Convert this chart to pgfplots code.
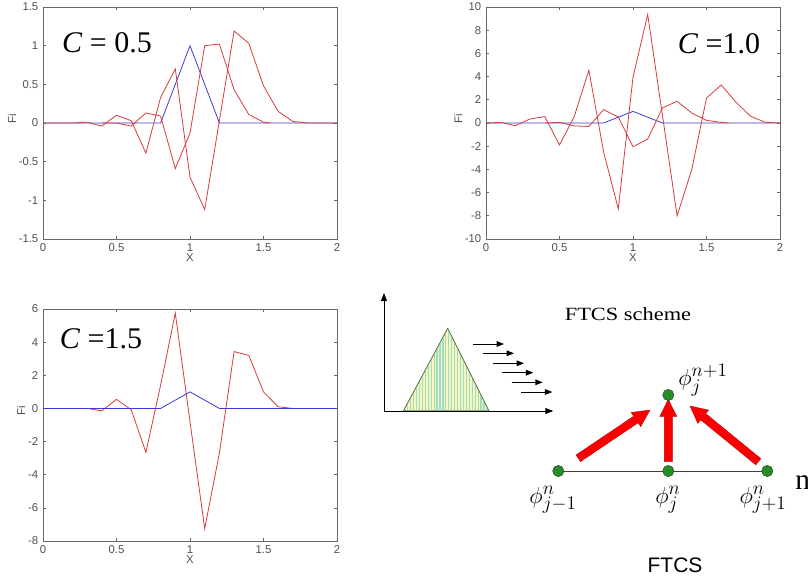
\documentclass[border=0pt]{standalone}
\usepackage{pgfplots}
\pgfplotsset{compat=1.18}
\usepackage{fontspec}
\setmainfont{Liberation Serif}
\newfontfamily\arial{Liberation Sans}
\usetikzlibrary{arrows.meta,patterns.meta}
\definecolor{mred}{RGB}{215,60,60}
\definecolor{mblue}{RGB}{60,60,205}
\definecolor{framegray}{RGB}{105,105,105}
\definecolor{labgray}{RGB}{80,80,80}
\definecolor{triyellow}{RGB}{245,245,190}
\definecolor{trigreen}{RGB}{160,220,195}
\definecolor{triedge}{RGB}{90,110,70}
\definecolor{dotgreen}{RGB}{40,140,40}
\definecolor{arrred}{RGB}{250,0,0}
\pgfplotsset{mat/.style={scale only axis, width=220.5pt, height=174pt,
  xmin=0, xmax=2, xtick={0,0.5,1,1.5,2}, xticklabels={0,0.5,1,1.5,2},
  tick align=inside, major tick length=2.25pt,
  axis line style={framegray, line width=0.5pt},
  tick style={framegray, line width=0.5pt},
  ticklabel style={font=\arial\fontsize{8.5}{10}\selectfont, text=labgray},
  label style={font=\arial\fontsize{8.5}{10}\selectfont, text=labgray},
  xlabel=X, ylabel=Fi,
  xlabel style={at={(axis description cs:0.5,0)}, anchor=north, yshift=-10.5pt, inner sep=0pt},
  clip=true}}
\begin{document}
\begin{tikzpicture}
\useasboundingbox (0pt,0pt) rectangle (606pt,436.5pt);
% ---------- C = 0.5 ----------
\begin{axis}[mat, at={(32.25pt,257.25pt)}, anchor=south west,
  ymin=-1.5, ymax=1.5, ytick={-1.5,-1,-0.5,0,0.5,1,1.5},
  yticklabels={-1.5,-1,-0.5,0,0.5,1,1.5},
  ylabel style={at={(axis description cs:-0.105,0.52)}, anchor=center, inner sep=0pt}]
\addplot[mblue, line width=0.6pt] coordinates {(0,0) (0.8,0) (0.9,0.5) (1.0,1) (1.1,0.5) (1.2,0) (2,0)};
\addplot[mred, line width=0.6pt] coordinates {(0.4,0) (0.5,0.0) (0.6,-0.04) (0.7,0.13) (0.8,0.09) (0.9,-0.59) (1.0,-0.13) (1.1,1.0) (1.2,1.02) (1.3,0.43) (1.4,0.11) (1.5,0.01) (1.55,0)};
\addplot[mred, line width=0.6pt] coordinates {(0,0) (0.2,0) (0.3,0.01) (0.4,-0.04) (0.5,0.1) (0.6,0.03) (0.7,-0.39) (0.8,0.33) (0.9,0.7) (1.0,-0.7) (1.1,-1.12) (1.2,0.03) (1.3,1.19) (1.4,1.03) (1.5,0.48) (1.6,0.15) (1.7,0.02) (1.8,0) (2,0)};
\end{axis}
% ---------- C = 1.0 ----------
\begin{axis}[mat, at={(364.5pt,257.25pt)}, anchor=south west,
  ymin=-10, ymax=10, ytick={-10,-8,...,10},
  yticklabels={-10,-8,-6,-4,-2,0,2,4,6,8,10},
  ylabel style={at={(axis description cs:-0.094,0.517)}, anchor=center, inner sep=0pt}]
\addplot[mblue, line width=0.6pt] coordinates {(0,0) (0.8,0) (0.9,0.5) (1.0,1) (1.1,0.5) (1.2,0) (2,0)};
\addplot[mred, line width=0.6pt] coordinates {(0.4,0) (0.5,0.05) (0.6,-0.25) (0.7,-0.3) (0.8,1.15) (0.9,0.52) (1.0,-2.05) (1.1,-1.38) (1.2,1.3) (1.3,1.87) (1.4,0.86) (1.5,0.23) (1.6,0.05) (1.65,0)};
\addplot[mred, line width=0.6pt] coordinates {(0,0) (0.1,0.05) (0.2,-0.23) (0.3,0.35) (0.4,0.55) (0.5,-1.9) (0.6,0.55) (0.7,4.55) (0.8,-2.5) (0.9,-7.4) (1.0,3.95) (1.1,9.35) (1.2,0.7) (1.3,-8.0) (1.4,-4.0) (1.5,2.15) (1.6,3.28) (1.7,1.8) (1.8,0.58) (1.9,0.06) (2.0,0)};
\end{axis}
% ---------- C = 1.5 ----------
\begin{axis}[mat, at={(32.25pt,30.75pt)}, anchor=south west,
  ymin=-8, ymax=6, ytick={-8,-6,...,6},
  yticklabels={-8,-6,-4,-2,0,2,4,6},
  ylabel style={at={(axis description cs:-0.075,0.56)}, anchor=center, inner sep=0pt}]
\addplot[mred, line width=0.6pt] coordinates {(0.32,-0.03) (0.4,-0.15) (0.5,0.55) (0.6,-0.08) (0.7,-2.65) (0.8,1.4) (0.9,5.75) (1.0,-0.8) (1.1,-7.25) (1.2,-2.7) (1.3,3.43) (1.4,3.2) (1.5,1.0) (1.6,0.1) (1.7,0)};
\addplot[mblue, line width=0.6pt] coordinates {(0,0) (0.8,0) (0.9,0.5) (1.0,1) (1.1,0.5) (1.2,0) (2,0)};
\end{axis}
% ---------- schematic overlay (pixel coordinates) ----------
\begin{axis}[at={(0pt,0pt)}, anchor=south west, scale only axis,
  width=606pt, height=436.5pt, xmin=0, xmax=808, ymin=0, ymax=582,
  y dir=reverse, hide axis, clip=false]
% triangle
\addplot[draw=triedge, line width=0.4pt, fill=triyellow,
  postaction={pattern={Lines[angle=90,distance=2.2pt,line width=0.9pt]}, pattern color=trigreen}]
  coordinates {(403.3,411) (447.7,328.3) (489,411)} -- cycle;
% small axes
\addplot[black, line width=0.75pt, -{Triangle[length=6pt,width=4.5pt]}] coordinates {(384,411) (384,293)};
\addplot[black, line width=0.75pt, -{Triangle[length=6pt,width=4.5pt]}] coordinates {(384,411) (553.3,411)};
% advection arrows
\addplot[black, line width=0.75pt, -{Triangle[length=5.5pt,width=4.2pt]},
  quiver={u=\thisrow{u}, v=\thisrow{v}}] table {
x y u v
472.7 344 31.3 0
482.7 353.3 31.3 0
492.7 363.3 31.3 0
501.7 372.7 31.6 0
511.7 382.3 31.0 0
521.3 392 31.0 0
};
% stencil line
\addplot[black!75, line width=0.6pt] coordinates {(558.3,471) (767.3,471)};
% red arrows
\addplot[fill=arrred, draw=red!75!black, line width=0.3pt] coordinates {(580.5,461.6) (638.1,422.8) (640.7,426.6) (650,410) (631.2,412.5) (633.7,416.2) (576.1,455.0)} -- cycle;
\addplot[fill=arrred, draw=red!75!black, line width=0.3pt] coordinates {(672.3,461.7) (672.3,416.5) (676.8,416.5) (668.3,399.3) (659.8,416.5) (664.3,416.5) (664.3,461.7)} -- cycle;
\addplot[fill=arrred, draw=red!75!black, line width=0.3pt] coordinates {(760.8,458.6) (705.7,413.6) (708.6,410.1) (690,406) (697.8,423.3) (700.7,419.8) (755.8,464.8)} -- cycle;
% nodes (dots)
\addplot[only marks, mark=*, mark size=4.2pt, mark options={fill=dotgreen, draw=dotgreen!60!black, line width=0.4pt}]
  coordinates {(558.3,471) (668.3,471) (767.3,471) (668.3,395)};
% texts
\node[font=\fontsize{22.5}{24}\selectfont, inner sep=0pt] at (axis cs:107,43) {\textit{C} = 0.5};
\node[font=\fontsize{22.5}{24}\selectfont, inner sep=0pt] at (axis cs:719,44) {\textit{C} =1.0};
\node[font=\fontsize{22.5}{24}\selectfont, inner sep=0pt] at (axis cs:101,339) {\textit{C} =1.5};
\node[font=\fontsize{14}{16}\selectfont, inner sep=0pt] at (axis cs:628,314.5) {\scalebox{1.2}[1]{FTCS scheme}};
\node[font=\arial\fontsize{15.75}{18}\selectfont, inner sep=0pt] at (axis cs:675,565.5) {FTCS};
\node[font=\fontsize{19}{22}\selectfont, inner sep=0pt] at (axis cs:703,380) {$\phi^{n+1}_{j}$};
\node[font=\fontsize{19}{22}\selectfont, inner sep=0pt] at (axis cs:553,500) {$\phi^{n}_{j-1}$};
\node[font=\fontsize{19}{22}\selectfont, inner sep=0pt] at (axis cs:668,500) {$\phi^{n}_{j}$};
\node[font=\fontsize{19}{22}\selectfont, inner sep=0pt] at (axis cs:763,500) {$\phi^{n}_{j+1}$};
\node[font=\fontsize{22}{24}\selectfont, inner sep=0pt, anchor=base west] at (axis cs:795,489) {n};
\end{axis}
\end{tikzpicture}
\end{document}
